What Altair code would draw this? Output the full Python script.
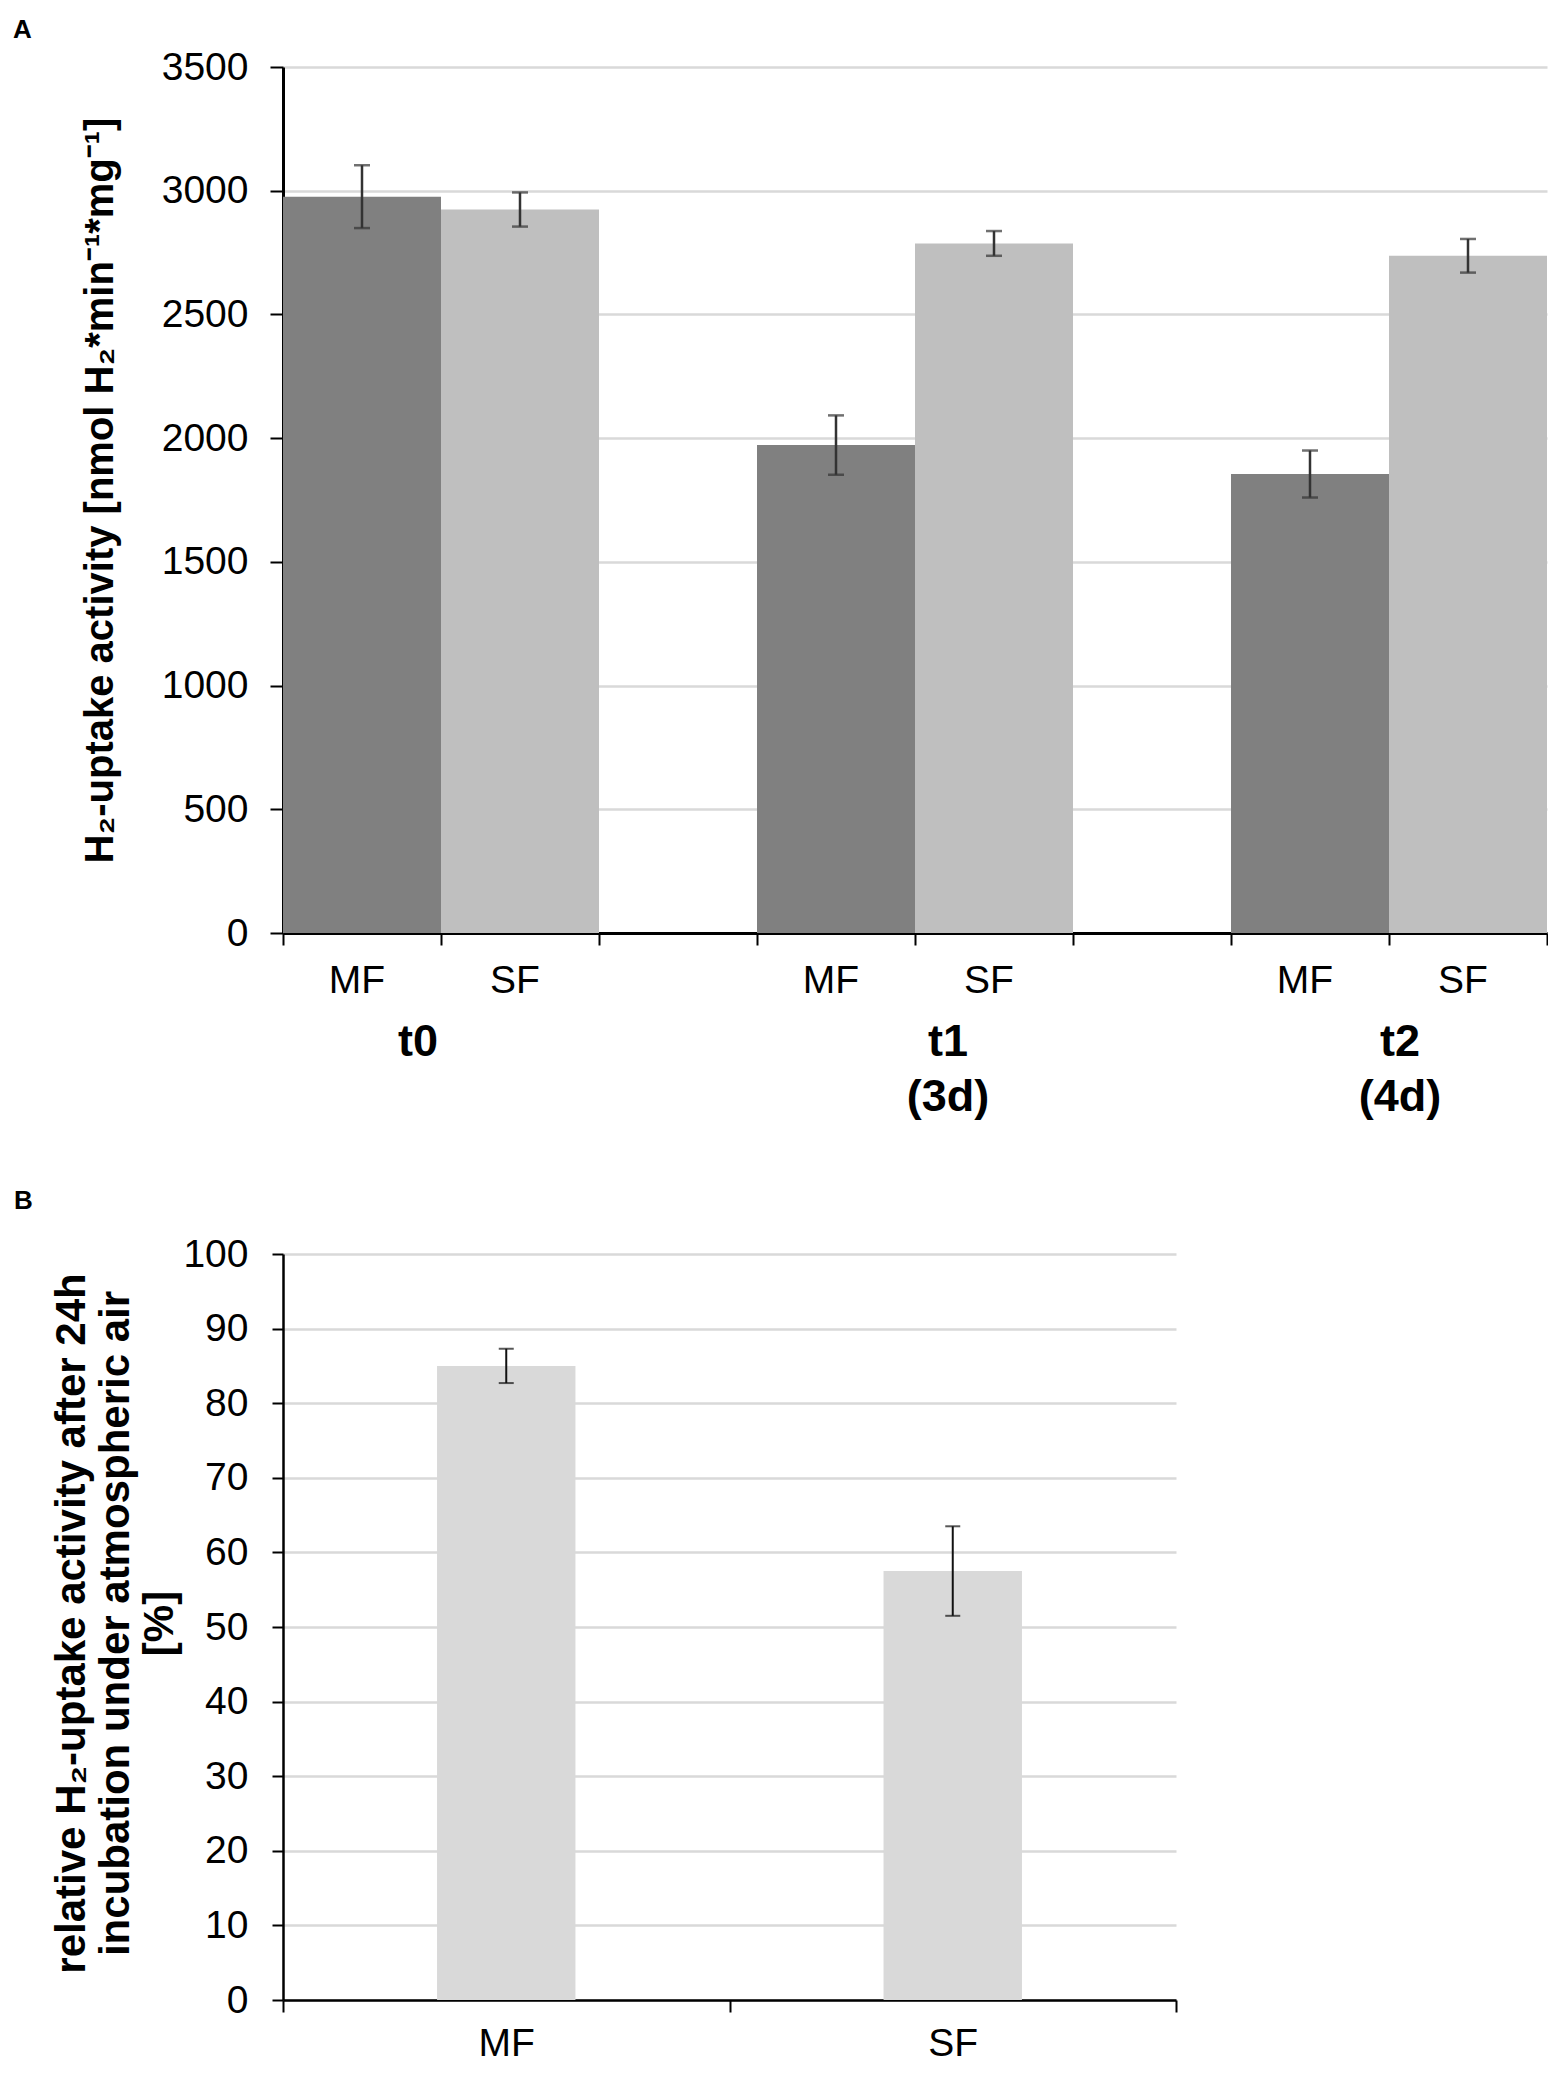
import altair as alt
import pandas as pd

FONT = "Liberation Sans"

# ---------------- Panel A data ----------------
a_groups = ["t0", "t0", "t1", "t1", "t2", "t2"]
a_fractions = ["MF", "SF", "MF", "SF", "MF", "SF"]
a_values = [2976, 2924, 1972, 2787, 1855, 2737]
a_errors = [127, 69, 120, 50, 95, 68]
a_slots = ["t0|MF", "t0|SF", "g1", "t1|MF", "t1|SF", "g2", "t2|MF", "t2|SF"]
a_group_names = ["t0", "t1", "t2"]
a_group_labels = ["t0", "t1\n(3d)", "t2\n(4d)"]
a_y_ticks = [0, 500, 1000, 1500, 2000, 2500, 3000, 3500]
a_y_title = "H₂-uptake activity [nmol H₂*min⁻¹*mg⁻¹]"

# ---------------- Panel B data ----------------
b_fractions = ["MF", "SF"]
b_values = [85.0, 57.5]
b_errors = [2.3, 6.0]
b_y_ticks = [0, 10, 20, 30, 40, 50, 60, 70, 80, 90, 100]
b_y_title = ["relative H₂-uptake activity after 24h", "incubation under atmospheric air", "[%]"]

# ---------------- frames ----------------
dfa = pd.DataFrame({
    "group": a_groups,
    "fraction": a_fractions,
    "value": a_values,
    "err": a_errors,
})
dfa["slot"] = dfa["group"] + "|" + dfa["fraction"]
dfa["lo"] = dfa["value"] - dfa["err"]
dfa["hi"] = dfa["value"] + dfa["err"]

dfb = pd.DataFrame({"fraction": b_fractions, "value": b_values, "err": b_errors})
dfb["lo"] = dfb["value"] - dfb["err"]
dfb["hi"] = dfb["value"] + dfb["err"]

# ---------------- Panel A ----------------
A_W, A_H = 1264, 866
A_BAND = A_W / len(a_slots)

xa_scale = alt.Scale(domain=a_slots, paddingInner=0, paddingOuter=0)
xa_axis = alt.Axis(
    title=None, tickBand="extent", labels=False,
    tickSize=12, tickColor="#000", tickWidth=2,
    domainColor="#000", domainWidth=3, grid=False,
)
ya_scale = alt.Scale(domain=[0, 3500], nice=False)
ya_axis = alt.Axis(
    title=a_y_title, values=a_y_ticks, format="d",
    titleFont=FONT, titleFontSize=40,
    titleFontWeight="bold", titleColor="#000", titleX=-171, titleY=A_H / 2 - 10,
    titleBaseline="alphabetic",
    labelFont=FONT, labelFontSize=39, labelColor="#000", labelPadding=22,
    tickSize=13, tickColor="#000", tickWidth=2,
    domainColor="#000", domainWidth=3,
    gridColor="#d9d9d9", gridWidth=2.5,
)

base_a = alt.Chart(dfa)
bars_a = base_a.mark_bar().encode(
    x=alt.X("slot:N", scale=xa_scale, axis=xa_axis),
    y=alt.Y("value:Q", scale=ya_scale, axis=ya_axis),
    color=alt.Color("fraction:N", scale=alt.Scale(domain=["MF", "SF"], range=["#808080", "#bfbfbf"]), legend=None),
)
err_a = base_a.mark_rule(color="#333333", strokeWidth=2.5).encode(
    x=alt.X("slot:N", scale=xa_scale, axis=xa_axis),
    y=alt.Y("lo:Q", scale=ya_scale, axis=ya_axis),
    y2="hi:Q",
)
cap_lo_a = base_a.mark_tick(color="#333333", thickness=2.5, size=16).encode(
    x=alt.X("slot:N", scale=xa_scale, axis=xa_axis),
    y=alt.Y("lo:Q", scale=ya_scale, axis=ya_axis),
)
cap_hi_a = base_a.mark_tick(color="#333333", thickness=2.5, size=16).encode(
    x=alt.X("slot:N", scale=xa_scale, axis=xa_axis),
    y=alt.Y("hi:Q", scale=ya_scale, axis=ya_axis),
)
# category labels (MF / SF) under each bar
cat_labels_a = base_a.mark_text(
    font=FONT, fontSize=39, color="#000", align="center", baseline="top", dx=-5,
).encode(
    x=alt.X("slot:N", scale=xa_scale, axis=xa_axis),
    y=alt.value(A_H + 29),
    text="fraction:N",
)

group_dx = {"t0": -23, "t1": 33, "t2": 11}
group_layers = []
for name, lab in zip(a_group_names, a_group_labels):
    gdf = pd.DataFrame({"anchor": [name + "|SF"], "label": [lab]})
    group_layers.append(
        alt.Chart(gdf).mark_text(
            font=FONT, fontSize=45, fontWeight="bold", color="#000",
            align="center", baseline="top", lineBreak="\n", lineHeight=55,
            dx=group_dx[name] - A_BAND / 2,
        ).encode(
            x=alt.X("anchor:N", scale=xa_scale, axis=xa_axis),
            y=alt.value(A_H + 86.5),
            text="label:N",
        )
    )

panel_a_label = alt.Chart(pd.DataFrame({"p": ["A"]})).mark_text(
    font=FONT, fontSize=26, fontWeight="bold", color="#000",
    align="left", baseline="top",
).encode(x=alt.value(-270), y=alt.value(-50), text="p:N")

chart_a = alt.layer(
    bars_a, err_a, cap_lo_a, cap_hi_a, cat_labels_a, *group_layers, panel_a_label
).properties(width=A_W, height=A_H)

# ---------------- Panel B ----------------
B_W, B_H = 893, 746

xb_scale = alt.Scale(domain=b_fractions, paddingInner=0, paddingOuter=0)
xb_axis = alt.Axis(
    title=None, tickBand="extent", labelAngle=0,
    labelFont=FONT, labelFontSize=39, labelColor="#000", labelPadding=12,
    tickSize=12, tickColor="#000", tickWidth=2,
    domainColor="#000", domainWidth=2.5, grid=False,
)
yb_scale = alt.Scale(domain=[0, 100], nice=False)
yb_axis = alt.Axis(
    title=b_y_title, values=b_y_ticks, titleFont=FONT, titleFontSize=42,
    titleFontWeight="bold", titleColor="#000", titleX=-199, titleY=B_H / 2 - 4,
    titleBaseline="alphabetic", titleLineHeight=44,
    labelFont=FONT, labelFontSize=39, labelColor="#000", labelPadding=24,
    tickSize=11, tickColor="#000", tickWidth=2,
    domainColor="#000", domainWidth=2.5,
    gridColor="#d9d9d9", gridWidth=2.5,
)

base_b = alt.Chart(dfb)
bars_b = base_b.mark_bar(color="#d9d9d9", width={"band": 0.31}).encode(
    x=alt.X("fraction:N", scale=xb_scale, axis=xb_axis),
    y=alt.Y("value:Q", scale=yb_scale, axis=yb_axis),
)
err_b = base_b.mark_rule(color="#111111", strokeWidth=2).encode(
    x=alt.X("fraction:N", scale=xb_scale, axis=xb_axis),
    y=alt.Y("lo:Q", scale=yb_scale, axis=yb_axis),
    y2="hi:Q",
)
cap_lo_b = base_b.mark_tick(color="#111111", thickness=2, size=15).encode(
    x=alt.X("fraction:N", scale=xb_scale, axis=xb_axis),
    y=alt.Y("lo:Q", scale=yb_scale, axis=yb_axis),
)
cap_hi_b = base_b.mark_tick(color="#111111", thickness=2, size=15).encode(
    x=alt.X("fraction:N", scale=xb_scale, axis=xb_axis),
    y=alt.Y("hi:Q", scale=yb_scale, axis=yb_axis),
)
panel_b_label = alt.Chart(pd.DataFrame({"p": ["B"]})).mark_text(
    font=FONT, fontSize=26, fontWeight="bold", color="#000",
    align="left", baseline="top",
).encode(x=alt.value(-269), y=alt.value(-66), text="p:N")

chart_b = alt.layer(bars_b, err_b, cap_lo_b, cap_hi_b, panel_b_label).properties(
    width=B_W, height=B_H
)

chart = alt.ConcatChart(
    concat=[chart_a, chart_b], columns=1, align="none", spacing=68
).properties(
    padding={"top": 9, "left": 5, "right": 0, "bottom": 0},
).configure_view(strokeWidth=0)

chart.save("out.html", embed_options={"renderer": "svg", "actions": False})
